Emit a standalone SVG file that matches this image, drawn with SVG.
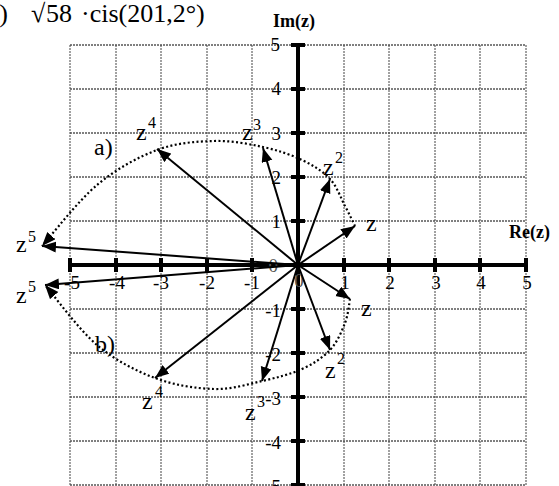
<svg xmlns="http://www.w3.org/2000/svg" width="559" height="486" viewBox="0 0 559 486">
<style>
.t{font-family:"Liberation Serif","Times New Roman",serif;fill:#000}
.num{font-size:19px}
.lbl{font-size:24px}
.sup{font-size:16px}
.gh{stroke:#000;stroke-width:1;stroke-dasharray:2 1;fill:none}
.gv{stroke:#444;stroke-width:1;stroke-dasharray:2 1;fill:none}
.vec{stroke:#000;stroke-width:2;fill:none;marker-end:url(#ah)}
.dot{stroke:#000;stroke-width:2.2;stroke-dasharray:2 2.4;fill:none;marker-end:url(#ah)}
</style>
<defs>
<marker id="ah" markerUnits="userSpaceOnUse" markerWidth="16" markerHeight="12" refX="14" refY="5.5" orient="auto" viewBox="0 0 16 12">
<path d="M0,0 L14,5.5 L0,11 Z" fill="#000"/>
</marker>
</defs>
<rect width="559" height="486" fill="#fff"/>

<g id="title" class="t">
<text x="8" y="22" font-size="26" text-anchor="end">)</text>
<text x="31" y="22" font-size="26">√</text>
<text x="46" y="22" font-size="26">58</text>
<text x="81" y="22" font-size="26">·cis(201,2°)</text>
</g>

<g id="grid">
<path class="gh" d="M70,45H526M70,89H526M70,133H526M70,177H526M70,221H526M70,309H526M70,353H526M70,397H526M70,441H526M70,485H526"/>
<path class="gv" d="M70,45V486M116,45V486M161,45V486M207,45V486M252,45V486M344,45V486M389,45V486M435,45V486M480,45V486M526,45V486"/>
</g>

<g id="axes" fill="#000">
<rect x="70" y="263" width="456" height="4"/>
<rect x="296" y="45" width="4" height="441"/>
<rect x="68" y="258" width="4" height="14"/>
<rect x="114" y="258" width="4" height="14"/>
<rect x="159" y="258" width="4" height="14"/>
<rect x="205" y="258" width="4" height="14"/>
<rect x="250" y="258" width="4" height="14"/>
<rect x="342" y="258" width="4" height="14"/>
<rect x="387" y="258" width="4" height="14"/>
<rect x="433" y="258" width="4" height="14"/>
<rect x="478" y="258" width="4" height="14"/>
<rect x="524" y="258" width="4" height="14"/>
<rect x="291" y="43" width="14" height="4"/>
<rect x="291" y="87" width="14" height="4"/>
<rect x="291" y="131" width="14" height="4"/>
<rect x="291" y="175" width="14" height="4"/>
<rect x="291" y="219" width="14" height="4"/>
<rect x="291" y="307" width="14" height="4"/>
<rect x="291" y="351" width="14" height="4"/>
<rect x="291" y="395" width="14" height="4"/>
<rect x="291" y="439" width="14" height="4"/>
<rect x="291" y="483" width="14" height="4"/>
</g>

<g id="axis-labels" class="t num">
<g text-anchor="middle">
<text x="72" y="289">-5</text>
<text x="117" y="289">-4</text>
<text x="161" y="289">-3</text>
<text x="207" y="289">-2</text>
<text x="252" y="289">-1</text>
<text x="299" y="287" fill="#555">0</text>
<text x="345" y="289">1</text>
<text x="390" y="289">2</text>
<text x="436" y="289">3</text>
<text x="481" y="289">4</text>
<text x="527" y="289">5</text>
</g>
<g text-anchor="end">
<text x="280" y="51">5</text>
<text x="281" y="95">4</text>
<text x="281" y="140">3</text>
<text x="281" y="184">2</text>
<text x="281" y="228">1</text>
<text x="278" y="272" fill="#555">0</text>
<text x="281" y="317">-1</text>
<text x="281" y="361">-2</text>
<text x="281" y="405">-3</text>
<text x="281" y="449">-4</text>
<text x="281" y="493">-5</text>
</g>
<text x="550" y="238" font-size="18" font-weight="bold" text-anchor="end">Re(z)</text>
<text x="273" y="27" font-size="18" font-weight="bold">Im(z)</text>
</g>

<g id="connectors">
<line class="vec" x1="298" y1="265" x2="355" y2="226"/>
<line class="vec" x1="298" y1="265" x2="330" y2="179"/>
<line class="vec" x1="298" y1="265" x2="263" y2="148"/>
<line class="vec" x1="298" y1="265" x2="157" y2="149"/>
<line class="vec" x1="298" y1="265" x2="42" y2="246"/>
<line class="vec" x1="298" y1="265" x2="350" y2="299"/>
<line class="vec" x1="298" y1="265" x2="330" y2="350"/>
<line class="vec" x1="298" y1="265" x2="262" y2="381"/>
<line class="vec" x1="298" y1="265" x2="155" y2="378"/>
<line class="vec" x1="298" y1="265" x2="45" y2="285"/>
<path class="dot" d="M355,226C353.33,222.67 349.17,213.83 345,206C340.83,198.17 337.17,186.67 330,179C322.83,171.33 313.17,165.33 302,160C290.830,154.67 277.67,150.17 263,147C248.33,143.83 231.67,140.5 214,141C196.33,141.5 176.5,142.67 157,150C137.5,157.33 116.17,169 97,185C77.83,201 51.17,235.83 42,246"/>
<path class="dot" d="M350,299C349.17,303 348.33,314.5 345,323C341.67,331.5 337.17,342.33 330,350C322.83,357.67 313.33,363.830 302,369C290.67,374.17 276.67,377.67 262,381C247.33,384.33 231.83,389.5 214,389C196.17,388.5 174.5,385.33 155,378C135.5,370.67 115.33,360.5 97,345C78.67,329.5 53.67,295 45,285"/>
</g>

<g id="vector-labels" class="t">
<text class="lbl" x="366" y="231">z</text>
<text class="lbl" x="323" y="175">z</text><text class="sup" x="335" y="163">2</text>
<text class="lbl" x="242" y="140">z</text><text class="sup" x="253" y="130">3</text>
<text class="lbl" x="136" y="140">z</text><text class="sup" x="148" y="128">4</text>
<text class="lbl" x="16" y="252">z</text><text class="sup" x="28" y="242">5</text>
<text class="lbl" x="94" y="155" font-size="22">a)</text>
<text class="lbl" x="361" y="316">z</text>
<text class="lbl" x="325" y="378">z</text><text class="sup" x="337" y="364">2</text>
<text class="lbl" x="245" y="420">z</text><text class="sup" x="257" y="407">3</text>
<text class="lbl" x="142" y="409">z</text><text class="sup" x="155" y="397">4</text>
<text class="lbl" x="16" y="303">z</text><text class="sup" x="28" y="292">5</text>
<text class="lbl" x="95" y="352" font-size="22">b)</text>
</g>
</svg>
